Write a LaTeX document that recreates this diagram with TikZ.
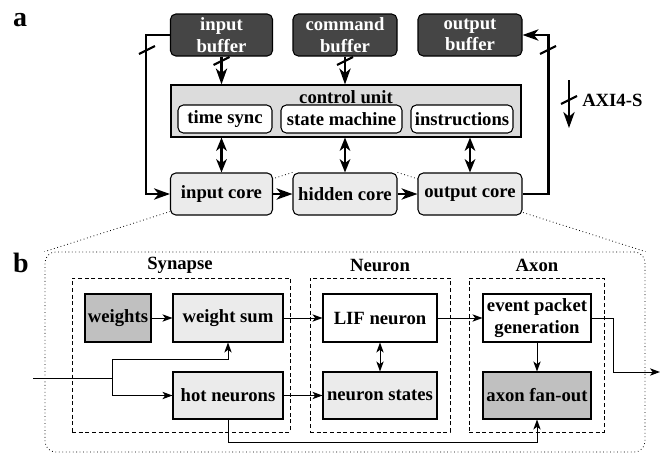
\documentclass[tikz,border=0pt]{standalone}
\usepackage{fontspec}
\setmainfont{Liberation Serif}
\usetikzlibrary{arrows.meta,calc,backgrounds}
\definecolor{dkgray}{HTML}{454545}
\definecolor{ltgray}{HTML}{EBEBEB}
\definecolor{ctrlgray}{HTML}{DCDCDC}
\definecolor{midgray}{HTML}{C0C0C0}
\newcommand{\slsh}[1]{\draw[line width=1.6pt] ($(#1)+(-8,4)$) -- ($(#1)+(8,-4)$);}
\begin{document}
\begin{tikzpicture}[x=0.75pt,y=-0.75pt,
  font=\fontsize{14}{16}\selectfont\bfseries,
  wh/.style 2 args={minimum width=#1*0.75pt,minimum height=#2*0.75pt},
  abox/.style={draw=black,line width=0.8pt,rounded corners=4pt,inner sep=1pt,align=center},
  buf/.style={abox,fill=dkgray,text=white},
  core/.style={abox,fill=ltgray},
  inbox/.style={abox,fill=white},
  bbox/.style={draw=black,line width=0.8pt,inner sep=1pt,align=center},
  grp/.style={draw=black,line width=0.75pt,dash pattern=on 3pt off 2pt},
  thk/.style={line width=1.6pt,-{Stealth[length=12pt,width=8.5pt,inset=3.5pt]}},
  dbl/.style={line width=1.6pt,{Stealth[length=10pt,width=8pt,inset=3pt]}-{Stealth[length=10pt,width=8pt,inset=3pt]}},
  thn/.style={line width=0.75pt,-{Stealth[length=7.5pt,width=5.5pt,inset=2pt]}},
  dbln/.style={line width=0.75pt,{Stealth[length=7.5pt,width=5.5pt,inset=2pt]}-{Stealth[length=7.5pt,width=5.5pt,inset=2pt]}},
  zoomln/.style={line width=0.6pt,dotted}
]
\useasboundingbox (0,0) rectangle (668,454);

% labels
\node[font=\fontsize{21}{21}\selectfont\bfseries,inner sep=0] (la) at (20,20) {a};
\node[font=\fontsize{21}{21}\selectfont\bfseries,inner sep=0] (lb) at (21,263) {b};

% ---------- part a ----------
\node[buf,wh={102}{42}] (inbuf) at (221.5,35) {input\\buffer};
\node[buf,wh={104}{42}] (cmdbuf) at (345,35) {command\\buffer};
\node[buf,wh={104}{42}] (outbuf) at (470,35) {output\\buffer};

\node[draw=black,line width=0.8pt,fill=ctrlgray,wh={350}{52}] (ctrl) at (346,111) {};
\node[inner sep=0] (ctrltitle) at (346,97) {control unit};
\node[inbox,wh={94}{28}] (tsync) at (225,119) {time sync};
\node[inbox,wh={121}{28}] (sm) at (341.5,119) {state machine};
\node[inbox,wh={102}{28}] (instr) at (462,119) {instructions};

\node[core,wh={102}{42}] (incore) at (221.5,194) {input core};
\node[core,wh={104}{42}] (hidcore) at (345,194) {hidden core};
\node[core,wh={104}{42}] (outcore) at (470,194) {output core};

\draw[thk] (inbuf.south) -- (inbuf.south |- ctrl.north);
\draw[thk] (cmdbuf.south) -- (cmdbuf.south |- ctrl.north);
\slsh{221.5,61}
\slsh{345,61}

\draw[dbl] (incore.north |- ctrl.south) -- (incore.north);
\draw[dbl] (hidcore.north |- ctrl.south) -- (hidcore.north);
\draw[dbl] (outcore.north |- ctrl.south) -- (outcore.north);

\draw[thk] (incore) -- (hidcore);
\draw[thk] (hidcore) -- (outcore);

\draw[thk] (inbuf.west) -- ++(-24,0) |- (incore.west);
\slsh{147,50}
\draw[thk] (outcore.east) -- ++(26,0) |- (outbuf.east);
\slsh{548,50}

% legend
\coordinate (lgA) at (569,80);
\coordinate (lgB) at (569,128);
\draw[thk] (lgA) -- (lgB);
\slsh{569,100}
\node[anchor=west,inner sep=0] (axi) at (582,100) {AXI4-S};

% ---------- part b ----------
\node[draw=black,zoomln,rounded corners=8pt,wh={600}{200}] (bframe) at (345,352) {};

\begin{pgfonlayer}{background}
\draw[zoomln] (hidcore.north west) -- (bframe.north west);
\draw[zoomln] (hidcore.north east) -- (bframe.north east);
\end{pgfonlayer}

\node[grp,wh={218}{154}] (gsyn) at (181,355) {};
\node[grp,wh={140}{154}] (gneu) at (380,355) {};
\node[grp,wh={135}{154}] (gaxo) at (536.5,355) {};
\node[inner sep=0] (tsyn) at (180,265) {Synapse};
\node[inner sep=0] (tneu) at (380,265) {Neuron};
\node[inner sep=0] (taxo) at (537,265) {Axon};

\node[bbox,fill=midgray,wh={66}{48}] (wts) at (118,318) {weights};
\node[bbox,fill=ltgray,wh={110}{48}] (wsum) at (228,318) {weight sum};
\node[bbox,fill=ltgray,wh={110}{47}] (hot) at (228,395.5) {hot neurons};
\node[bbox,fill=white,wh={114}{48}] (lif) at (380,318) {LIF neuron};
\node[bbox,fill=ltgray,wh={114}{47}] (nst) at (380,395.5) {neuron states};
\node[bbox,fill=white,wh={108}{48}] (epg) at (537,318) {event packet\\generation};
\node[bbox,fill=midgray,wh={108}{47}] (fan) at (537,395.5) {axon fan-out};

\coordinate (inp) at (33,378);
\coordinate (jn) at (112,378);
\coordinate (jup) at (112,359);
\coordinate (outp) at (660,372);

\draw[thn] (wts) -- (wsum);
\draw[line width=0.75pt] (inp) -- (jn);
\draw[thn] (jn) |- (hot.west);
\draw[thn] (jn) -- (jup) -| (wsum.south);
\draw[thn] (wsum) -- (lif);
\draw[thn] (hot) -- (nst);
\draw[dbln] (lif) -- (nst);
\draw[thn] (lif) -- (epg);
\draw[thn] (epg) -- (fan);
\draw[thn] (epg.east) -- ++(22,0) |- (outp);
\draw[thn] (hot.south) -- ++(0,23) -| (fan.south);
\end{tikzpicture}
\end{document}
